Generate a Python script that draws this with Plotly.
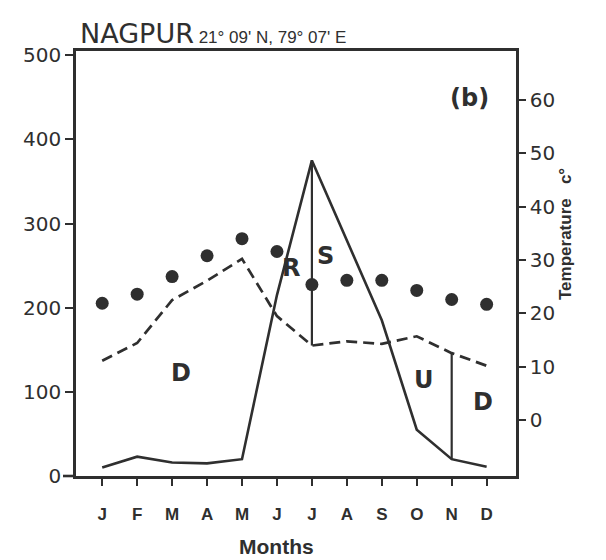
import plotly.graph_objects as go

# Monthly climate data for Nagpur
months = ["J", "F", "M", "A", "M", "J", "J", "A", "S", "O", "N", "D"]
precip_mm = [10, 23, 16, 15, 20, 215, 375, 280, 185, 55, 20, 11]
pet_mm = [137, 158, 209, 232, 258, 190, 155, 160, 157, 166, 146, 131]
temp_c = [21.9, 23.6, 26.9, 30.8, 34.0, 31.6, 25.4, 26.2, 26.2, 24.3, 22.6, 21.7]

left_ticks = [0, 100, 200, 300, 400, 500]
right_ticks = [0, 10, 20, 30, 40, 50, 60]

x = list(range(len(months)))
ink = "#2f2f2f"

fig = go.Figure()

# Potential evapotranspiration (dashed)
fig.add_trace(go.Scatter(x=x, y=pet_mm, mode="lines",
                         line=dict(color=ink, width=2.7, dash="11px,6px"),
                         showlegend=False, hoverinfo="skip"))
# Precipitation (solid)
fig.add_trace(go.Scatter(x=x, y=precip_mm, mode="lines",
                         line=dict(color=ink, width=2.6),
                         showlegend=False, hoverinfo="skip"))
# Vertical separators at July and November
for i in (6, 10):
    fig.add_trace(go.Scatter(x=[i, i], y=[precip_mm[i], pet_mm[i]], mode="lines",
                             line=dict(color=ink, width=2.2),
                             showlegend=False, hoverinfo="skip"))
# Mean temperature (dots, right axis)
fig.add_trace(go.Scatter(x=x, y=temp_c, mode="markers", yaxis="y2",
                         marker=dict(color=ink, size=13),
                         showlegend=False, hoverinfo="skip"))

geo = "DejaVu Sans, Noto Sans, sans-serif"
grot = "Liberation Sans, Arial, sans-serif"
tick_font = dict(family=geo, size=20, color=ink)

fig.update_layout(
    width=606, height=560,
    margin=dict(l=76, r=90, t=51, b=84),
    paper_bgcolor="white", plot_bgcolor="white",
    xaxis=dict(range=[-0.75, 11.84], tickvals=x, ticktext=months,
               ticks="outside", ticklen=7, tickwidth=2, tickcolor=ink,
               ticklabelstandoff=14,
               showline=True, linewidth=2.6, linecolor=ink, mirror=True,
               showgrid=False, zeroline=False,
               tickfont=dict(family=grot, size=17, color=ink, weight="bold")),
    yaxis=dict(range=[0, 505], tickvals=left_ticks,
               ticks="outside", ticklen=8, tickwidth=2, tickcolor=ink,
               showline=True, linewidth=2.6, linecolor=ink,
               showgrid=False, zeroline=False, tickfont=tick_font),
    yaxis2=dict(range=[-10.5, 69.2], tickvals=right_ticks, overlaying="y",
                side="right", ticks="outside", ticklen=7, tickwidth=2,
                tickcolor=ink, showline=True, linewidth=2.6, linecolor=ink,
                showgrid=False, zeroline=False, tickfont=tick_font),
    shapes=[dict(type="line", xref="paper", yref="paper",
                 x0=(63 - 76) / 440, x1=0, y0=0, y1=0,
                 line=dict(color=ink, width=2.6))],
)

label_font = dict(family=geo, size=24, color=ink, weight="bold")
for text, lx, ly in [("D", 2.25, 122), ("R", 5.40, 247), ("S", 6.40, 262),
                     ("U", 9.21, 114), ("D", 10.9, 88), ("(b)", 10.52, 449)]:
    fig.add_annotation(x=lx, y=ly, xref="x", yref="y", text=text,
                       showarrow=False, font=label_font)

# Station title
fig.add_annotation(
    x=(78 - 76) / 440, y=(476 - 33) / 425, xref="paper", yref="paper",
    xanchor="left", yanchor="middle", showarrow=False,
    text=("<span style='font-family:DejaVu Sans;font-size:27px'>NAGPUR</span>"
          " 21° 09' N, 79° 07' E"),
    font=dict(family=grot, size=17, color=ink))

# Axis titles
fig.add_annotation(x=(276 - 76) / 440, y=(476 - 546) / 425, xref="paper", yref="paper",
                   xanchor="center", yanchor="middle",
                   text="Months", showarrow=False,
                   font=dict(family=grot, size=21, color=ink, weight="bold"))
fig.add_annotation(x=(566 - 76) / 440, y=(476 - 234) / 425, xref="paper", yref="paper",
                   xanchor="center", yanchor="middle",
                   text="Temperature   c°", textangle=-90, showarrow=False,
                   font=dict(family=grot, size=17, color=ink, weight="bold"))

fig.write_html("out.html")
